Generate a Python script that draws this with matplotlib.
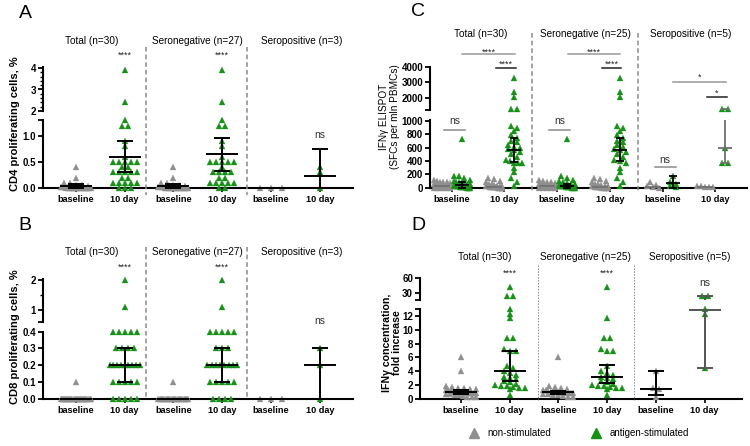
import numpy as np
import matplotlib
matplotlib.use('Agg')
import matplotlib.pyplot as plt
from matplotlib.lines import Line2D
import matplotlib.transforms as mtransforms

plt.rcParams['font.family'] = ['Liberation Sans', 'DejaVu Sans']

W, H = 750, 446
GREEN = '#179117'
GRAY = '#8f8f8f'

# ---------------- labels ----------------
tick_labels = ['baseline', '10 day'] * 3
AB_titles = ['Total (n=30)', 'Seronegative (n=27)', 'Seropositive (n=3)']
CD_titles = ['Total (n=30)', 'Seronegative (n=25)', 'Seropositive (n=5)']
legend_labels = ['non-stimulated', 'antigen-stimulated']

# ---------------- Panel A: CD4 proliferating cells, % ----------------
A_seroneg_base = [0.4, 0.2, 0.1, 0.1, 0.05, 0.05, 0.03, 0.02, 0.02, 0.01, 0.01] + [0.0] * 16
A_seropos_base = [0.0, 0.0, 0.0]
A_seroneg_10 = [3.9, 2.4, 1.3, 1.2, 1.2, 0.9, 0.8, 0.6, 0.5, 0.5, 0.5, 0.5, 0.5, 0.4,
                0.3, 0.3, 0.3, 0.3, 0.2, 0.2, 0.1, 0.1, 0.1, 0.1, 0.1, 0.0, 0.0]
A_seropos_10 = [0.4, 0.3, 0.0]
# (centre line, lower bar, upper bar) per column
A_summary = [(0.03, 0.0, 0.07), (0.6, 0.3, 0.9), (0.03, 0.0, 0.08),
             (0.65, 0.32, 0.97), (0.0, 0.0, 0.0), (0.23, 0.0, 0.75)]
A_sig = ['', '****', '', '****', '', 'ns']

# ---------------- Panel B: CD8 proliferating cells, % ----------------
B_seroneg_base = [0.1] + [0.0] * 26
B_seropos_base = [0.0, 0.0, 0.0]
B_seroneg_10 = [2.0, 1.1] + [0.4] * 5 + [0.3] * 3 + [0.2] * 8 + [0.1] * 5 + [0.0] * 4
B_seropos_10 = [0.3, 0.2, 0.0]
B_summary = [(0.0, 0.0, 0.0), (0.2, 0.1, 0.3), (0.0, 0.0, 0.0),
             (0.2, 0.1, 0.3), (0.0, 0.0, 0.0), (0.2, 0.0, 0.3)]
B_sig = ['', '****', '', '****', '', 'ns']

# ---------------- Panel C: IFNg ELISPOT ----------------
C_nonstim_seroneg_base = [120, 100, 90, 80, 70, 60, 50, 40, 40, 30, 30, 20, 20, 20,
                          10, 10, 10, 10, 5, 5, 0, 0, 0, 0, 0]
C_stim_seroneg_base = [730, 170, 140, 120, 100, 90, 70, 60, 50, 40, 30, 30, 20, 20, 20,
                       10, 10, 10, 10, 5, 5, 0, 0, 0, 0]
C_nonstim_seroneg_10 = [150, 130, 100, 80, 60, 50, 40, 30, 30, 20, 20, 20, 10, 10, 10,
                        10, 5, 5, 5, 0, 0, 0, 0, 0, 0]
C_stim_seroneg_10 = [3280, 2380, 2040, 930, 900, 850, 790, 750, 700, 680, 640, 615, 575,
                     560, 540, 500, 465, 420, 400, 365, 290, 230, 140, 90, 30]
C_nonstim_seropos_base = [90, 40, 20, 10, 0]
C_stim_seropos_base = [170, 90, 60, 20, 5]
C_nonstim_seropos_10 = [30, 20, 10, 10, 5]
C_stim_seropos_10 = [1250, 1250, 590, 370, 370]
C_stim_summary = [(40, 0, 80), (560, 390, 750), (30, 0, 60),
                  (560, 395, 750), (65, 0, 175), (590, 370, 1250)]
C_nonstim_median = [20, 15, 20, 15, 10, 10]

# ---------------- Panel D: IFNg concentration, fold increase ----------------
D_seroneg_base = [6.0, 1.9, 1.7, 1.5, 1.4, 1.3, 1.2, 1.1, 1.0, 1.0, 1.0, 1.0, 1.0, 0.9,
                  0.9, 0.8, 0.8, 0.8, 0.7, 0.7, 0.6, 0.5, 0.4, 0.3, 0.2]
D_seropos_base = [4.0, 1.5, 1.4, 0.9, 0.3]
D_seroneg_10 = [42, 11.8, 8.8, 8.8, 7.3, 7.0, 6.9, 4.8, 4.0, 3.8, 3.5, 3.2, 3.0, 2.8,
                2.6, 2.4, 2.2, 2.0, 1.9, 1.8, 1.7, 1.6, 1.5, 1.4, 0.6]
D_seropos_10 = [25, 25, 13.0, 12.4, 4.4]
D_summary = [(1.0, 0.75, 1.2), (4.05, 2.55, 6.9), (0.95, 0.75, 1.1),
             (3.1, 2.35, 4.9), (1.45, 0.5, 4.0), (12.9, 4.45, 25)]
D_sig = ['', '****', '', '****', '', 'ns']

# ---------------- layout (pixels) ----------------
# low/up = (ymin, ymax, pixel row of ymin, pixels per unit)
CFG = {
    'A': dict(x0=43, x1=353, p0=75.7, ppu=48.87,
              low=(0.0, 1.3, 188.0, 52.0), up=(2.0, 4.05, 111.0, 21.5),
              lt=[0, 0.5, 1.0, 1.3], ll=['0.0', '0.5', '1.0', ''],
              ut=[2, 3, 4], ul=['2', '3', '4'], um=list(np.arange(2.0, 4.01, 0.2))),
    'B': dict(x0=43, x1=353, p0=75.7, ppu=48.87,
              low=(0.0, 0.4, 398.7, 167.5), up=(0.6, 2.03, 322.3, 30.0),
              lt=[0, 0.1, 0.2, 0.3, 0.4], ll=['0.0', '0.1', '0.2', '0.3', '0.4'],
              ut=[0.6, 1, 2], ul=['', '1', '2'], um=[1.5]),
    'C': dict(x0=430, x1=747, p0=451.7, ppu=52.7,
              low=(0.0, 1010.0, 187.7, 0.0667), up=(1190.0, 4000.0, 110.0, 0.0152),
              lt=[0, 200, 400, 600, 800, 1000], ll=['0', '200', '400', '600', '800', '1000'],
              ut=[1190, 2000, 3000, 4000], ul=['', '2000', '3000', '4000'], um=[]),
    'D': dict(x0=420, x1=742, p0=461.0, ppu=48.7,
              low=(0.0, 13.0, 398.7, 6.87), up=(17.0, 60.0, 300.0, 0.511),
              lt=[0, 2, 4, 6, 8, 10, 12, 13], ll=['0', '2', '4', '6', '8', '10', '12', ''],
              ut=[17, 30, 60], ul=['', '30', '60'], um=[]),
}

fig = plt.figure(figsize=(W / 100, H / 100), dpi=100)


def fy(py):
    return 1 - py / H


def make_axes(c):
    x0, x1 = c['x0'], c['x1']
    lo0, lo1, lyb, lppu = c['low']
    uo0, uo1, uyb, uppu = c['up']
    axl = fig.add_axes([x0 / W, fy(lyb), (x1 - x0) / W, (lo1 - lo0) * lppu / H])
    axu = fig.add_axes([x0 / W, fy(uyb), (x1 - x0) / W, (uo1 - uo0) * uppu / H])
    xl = ((x0 - c['p0']) / c['ppu'], (x1 - c['p0']) / c['ppu'])
    for ax, lim in ((axl, (lo0, lo1)), (axu, (uo0, uo1))):
        ax.set_xlim(*xl)
        ax.set_ylim(*lim)
        ax.patch.set_alpha(0)
        for s in ('top', 'right'):
            ax.spines[s].set_visible(False)
        ax.spines['left'].set_linewidth(1.5)
        ax.spines['bottom'].set_linewidth(1.5)
        ax.tick_params(axis='y', which='major', length=3.5, width=1.3, labelsize=7, pad=1.5)
        ax.tick_params(axis='y', which='minor', length=2.0, width=1.0)
    axu.spines['bottom'].set_visible(False)
    axu.set_xticks([])
    axl.set_yticks(c['lt'], labels=c['ll'], fontweight='bold')
    axu.set_yticks(c['ut'], labels=c['ul'], fontweight='bold')
    if c['um']:
        axu.set_yticks(c['um'], minor=True)
    axl.set_xticks(range(6), labels=tick_labels, fontweight='bold', fontsize=6.6)
    axl.tick_params(axis='x', length=3, width=1.2, pad=2)

    def ypx(v):
        if v <= lo1:
            return lyb - (v - lo0) * lppu
        return uyb - (v - uo0) * uppu
    return axl, axu, ypx


def swarm_px(vals, ypx, d=6.0, maxhalf=15.0, rowtol=4.0):
    vals = np.asarray(vals, float)
    ys = np.array([ypx(v) for v in vals])
    order = np.argsort(ys, kind='stable')
    offs = np.zeros(len(vals))
    rows, cur = [], []
    for i in order:
        if cur and ys[i] - ys[cur[0]] > rowtol:
            rows.append(cur)
            cur = []
        cur.append(i)
    if cur:
        rows.append(cur)
    for row in rows:
        k = len(row)
        if k < 2:
            continue
        sp = min(d, 2 * maxhalf / (k - 1))
        pos = (np.arange(k) - (k - 1) / 2) * sp
        for i, p in zip(row, pos):
            offs[i] = p
    return offs


def draw_points(axl, axu, c, ypx, x, vals, color, maxhalf, d=6.0):
    offs = swarm_px(vals, ypx, d=d, maxhalf=maxhalf) / c['ppu']
    lim = c['low'][1]
    for v, o in zip(vals, offs):
        ax = axl if v <= lim else axu
        ax.plot([x + o], [v], '^', ms=4.8, color=color, mfc=color, mec=color, mew=0.2,
                clip_on=False, zorder=3)


def draw_summary(axl, axu, c, x, stats, mhalf_px, chalf_px, color='black', lw=1.4):
    cen, lo, hi = stats
    mh, ch = mhalf_px / c['ppu'], chalf_px / c['ppu']
    kw = dict(color=color, lw=lw, clip_on=False, zorder=5, solid_capstyle='butt')
    for ax in (axl, axu):
        y0, y1 = ax.get_ylim()
        inside = lambda v: y0 - 1e-9 <= v <= y1 + 1e-9
        if inside(cen):
            ax.plot([x - mh, x + mh], [cen, cen], **kw)
        if hi > lo:
            for v in (lo, hi):
                if inside(v):
                    ax.plot([x - ch, x + ch], [v, v], **kw)
            a, b = max(lo, y0), min(hi, y1)
            if b > a:
                ax.plot([x, x], [a, b], **kw)


def sig_text(ax, x, py, s, size=None):
    tr = mtransforms.blended_transform_factory(ax.transData, fig.transFigure)
    if '*' in s:
        ax.text(x, fy(py + 4.5), s, transform=tr, ha='center', va='baseline',
                fontsize=size or 6.5, color='#222222')
    else:
        ax.text(x, fy(py + 2.5), s, transform=tr, ha='center', va='baseline',
                fontsize=size or 7.5, color='#333333')


def sig_line(ax, xa, xb, py, color):
    tr = mtransforms.blended_transform_factory(ax.transData, fig.transFigure)
    ax.plot([xa, xb], [fy(py), fy(py)], transform=tr, color=color, lw=1.1, clip_on=False)


# ---------------- panels A, B, D ----------------
def simple_panel(key, groups, summary, sig, star_y, ns_y, sum_colors=None):
    c = CFG[key]
    axl, axu, ypx = make_axes(c)
    cols = [GRAY, GREEN] * 3
    for i, (vals, col) in enumerate(zip(groups, cols)):
        d = 11.0 if len(vals) <= 3 and max(vals) == 0 else 6.0
        draw_points(axl, axu, c, ypx, i, vals, col, 15.0, d=d)
        sc = sum_colors[i] if sum_colors else 'black'
        draw_summary(axl, axu, c, i, summary[i], 16, 8, color=sc)
        if sig[i]:
            sig_text(axl, i, star_y if '*' in sig[i] else ns_y, sig[i])
    return axl, axu


A_groups = [A_seroneg_base + A_seropos_base, A_seroneg_10 + A_seropos_10,
            A_seroneg_base, A_seroneg_10, A_seropos_base, A_seropos_10]
B_groups = [B_seroneg_base + B_seropos_base, B_seroneg_10 + B_seropos_10,
            B_seroneg_base, B_seroneg_10, B_seropos_base, B_seropos_10]
D_groups = [D_seroneg_base + D_seropos_base, D_seroneg_10 + D_seropos_10,
            D_seroneg_base, D_seroneg_10, D_seropos_base, D_seropos_10]

simple_panel('A', A_groups, A_summary, A_sig, 53.3, 135.7)
simple_panel('B', B_groups, B_summary, B_sig, 265.0, 321.7)
simple_panel('D', D_groups, D_summary, D_sig, 271.7, 284.0,
             sum_colors=['black'] * 5 + ['#555555'])

# ---------------- panel C ----------------
cC = CFG['C']
axCl, axCu, ypxC = make_axes(cC)
C_nonstim = [C_nonstim_seroneg_base + C_nonstim_seropos_base,
             C_nonstim_seroneg_10 + C_nonstim_seropos_10,
             C_nonstim_seroneg_base, C_nonstim_seroneg_10,
             C_nonstim_seropos_base, C_nonstim_seropos_10]
C_stim = [C_stim_seroneg_base + C_stim_seropos_base,
          C_stim_seroneg_10 + C_stim_seropos_10,
          C_stim_seroneg_base, C_stim_seroneg_10,
          C_stim_seropos_base, C_stim_seropos_10]
shift = 10.0 / cC['ppu']
for i in range(6):
    draw_points(axCl, axCu, cC, ypxC, i - shift, C_nonstim[i], GRAY, 8.0)
    draw_points(axCl, axCu, cC, ypxC, i + shift, C_stim[i], GREEN, 8.0)
    m = C_nonstim_median[i]
    draw_summary(axCl, axCu, cC, i - shift, (m, m, m), 8, 0, color='#6f6f6f', lw=1.2)
    draw_summary(axCl, axCu, cC, i + shift, C_stim_summary[i], 7, 4,
                 color='#6f6f6f' if i == 5 else 'black', lw=1.3)

# significance annotations for C: (x from, x to, y px, colour, text, text y px)
C_ann = [(-0.15, 0.25, 129.7, '#8a8a8a', 'ns', 122.0),
         (1.85, 2.25, 129.7, '#8a8a8a', 'ns', 122.0),
         (3.85, 4.25, 167.3, '#8a8a8a', 'ns', 160.5),
         (0.85, 1.22, 68.3, '#222222', '****', 62.0),
         (2.85, 3.22, 68.3, '#222222', '****', 62.0),
         (4.85, 5.22, 97.0, '#222222', '*', 91.0),
         (0.20, 1.20, 54.0, '#9a9a9a', '****', 50.5),
         (2.20, 3.20, 54.0, '#9a9a9a', '****', 50.5),
         (4.20, 5.20, 81.7, '#9a9a9a', '*', 75.5)]
for xa, xb, py, col, s, ty in C_ann:
    sig_line(axCu, xa, xb, py, col)
    sig_text(axCu, (xa + xb) / 2, ty, s)

# ---------------- dividers ----------------
def vline(x, y0, y1, dotted=False):
    if dotted:
        ln = Line2D([x / W] * 2, [fy(y0), fy(y1)], transform=fig.transFigure,
                    color='#8a8a8a', lw=0.7, ls=(0, (1.5, 1.5)))
    else:
        ln = Line2D([x / W] * 2, [fy(y0), fy(y1)], transform=fig.transFigure,
                    color='#8a8a8a', lw=1.1, ls=(0, (3, 2)))
    fig.add_artist(ln)


for x in (145.7, 247.3):
    vline(x, 47, 195)
    vline(x, 247, 398)
for x in (531.7, 637.7):
    vline(x, 33, 193)
for x in (537.7, 634.0):
    vline(x, 265, 400, dotted=True)

# ---------------- titles & labels ----------------
for x, t in zip((92, 197, 302), AB_titles):
    fig.text(x / W, fy(41), t, ha='center', va='center', fontsize=7.2)
    fig.text(x / W, fy(252), t, ha='center', va='center', fontsize=7.2)
for x, t in zip((481, 585.7, 691), CD_titles):
    fig.text(x / W, fy(34.3), t, ha='center', va='center', fontsize=7.2)
for x, t in zip((484.3, 585.7, 689.3), CD_titles):
    fig.text(x / W, fy(256.7), t, ha='center', va='center', fontsize=7.2)

for lab, x, y in (('A', 25, 13), ('B', 25, 225), ('C', 418, 12), ('D', 418, 225)):
    fig.text(x / W, fy(y), lab, ha='center', va='center', fontsize=14)

fig.text(15 / W, fy(124), 'CD4 proliferating cells, %', rotation=90, ha='center',
         va='center', fontsize=8, fontweight='bold')
fig.text(15 / W, fy(337), 'CD8 proliferating cells, %', rotation=90, ha='center',
         va='center', fontsize=8, fontweight='bold')
fig.text(389.5 / W, fy(117), 'IFNγ ELISPOT\n(SFCs per mln PBMCs)', rotation=90,
         ha='center', va='center', fontsize=7.2, multialignment='center', linespacing=1.2)
fig.text(392 / W, fy(343), 'IFNγ concentration,\nfold increase', rotation=90,
         ha='center', va='center', fontsize=7.6, fontweight='bold',
         multialignment='center', linespacing=1.1)

# ---------------- legend ----------------
for (mx, tx), col, lab in zip(((474, 487), (596, 610)), (GRAY, GREEN), legend_labels):
    fig.add_artist(Line2D([mx / W], [fy(433)], transform=fig.transFigure, marker='^',
                          ms=7, color=col, mec=col, ls='none'))
    fig.text(tx / W, fy(433), lab, ha='left', va='center', fontsize=7)

fig.savefig('out.png', dpi=100)
